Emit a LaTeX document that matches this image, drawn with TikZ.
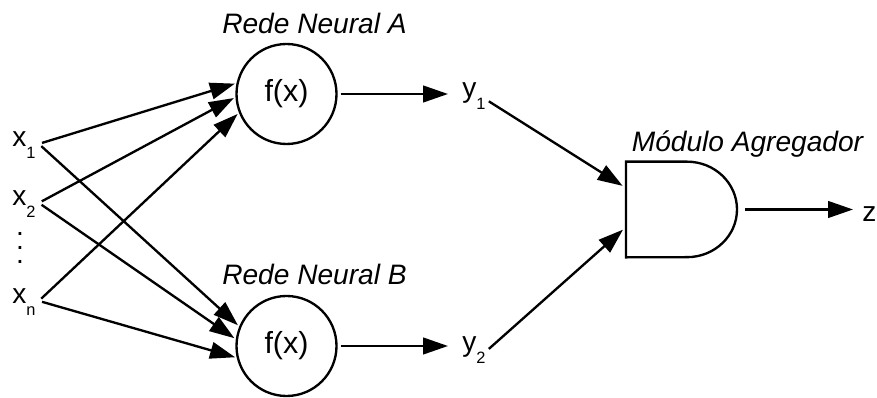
\documentclass[tikz,border=0pt]{standalone}
\usepackage{fontspec}
\setmainfont{Liberation Sans}
\usetikzlibrary{arrows.meta, calc, positioning}

\newcommand{\subidx}[1]{\raisebox{-9.5pt}{\fontsize{14}{14}\selectfont #1}}

\begin{document}
\begin{tikzpicture}[x=0.03cm, y=0.03cm, font=\fontsize{24}{28}\selectfont]
\tikzset{every node/.style={inner sep=1mm, outer sep=0mm}}

\tikzstyle{neuron}=[circle, draw=black, line width=2pt, minimum size=3.0cm, inner sep=0mm, font=\fontsize{26}{30}\selectfont]
\tikzstyle{var}=[text height=1ex, text depth=0pt, anchor=base west]
\tikzstyle{title}=[font=\fontsize{24}{28}\selectfont\itshape, anchor=base]
\tikzstyle{dots}=[align=center, inner sep=0mm, font=\fontsize{24}{11.9}\selectfont]
\tikzstyle{post}=[-{Triangle[length=7.5mm, width=5mm]}, line width=2pt]

\useasboundingbox (0,0) rectangle (877,398);

\node[neuron] (net a) at (286.5,304) {f(x)};
\node[neuron] (net b) at (286.5,52) {f(x)};

\node[title] (title a) at (314.5,364) {Rede Neural A};
\node[title] (title b) at (314.5,113) {Rede Neural B};

\node[var] (x1) at (9,251) {x\subidx{1}};
\node[var] (x2) at (9,192) {x\subidx{2}};
\node[dots] (vdots) at (20,150) {.\\.\\.};
\node[var] (xn) at (9,94) {x\subidx{n}};

\node[var] (y1) at (459,300) {y\subidx{1}};
\node[var] (y2) at (459,46) {y\subidx{2}};

% aggregator gate
\node[minimum width=3.33cm, minimum height=2.87cm, inner sep=0mm] (agg) at (681.5,188.5) {};
\draw[line width=2pt] (agg.north west) -- ++(61,0) arc (90:-90:1.5cm and 1.4325cm) -- (agg.south west) -- cycle;
\node[title] (title agg) at (747.5,246) {Módulo Agregador};

\node[var] (z) at (859,176) {z};

\foreach \s/\t in {x1/167, x2/183, xn/201}
    \path[post, shorten <=1mm, shorten >=0.9mm] (\s.east) edge (net a.\t);
\foreach \s/\t in {x1/158, x2/173, xn/194}
    \path[post, shorten <=1mm, shorten >=0.9mm] (\s.east) edge (net b.\t);

\path[post, shorten <=1.2mm, shorten >=3.3mm] (net a.east) edge (net a.east -| y1.west);
\path[post, shorten <=1.2mm, shorten >=3.3mm] (net b.east) edge (net b.east -| y2.west);

\path[post, shorten >=1.2mm] (y1.south east) edge ([yshift=0.645cm]agg.west);
\path[post, shorten >=1.2mm] (y2.east) edge ([yshift=-0.525cm]agg.west);

\path[post, shorten <=2.4mm, shorten >=1.8mm] (agg.east) edge (agg.east -| z.west);

\end{tikzpicture}
\end{document}
